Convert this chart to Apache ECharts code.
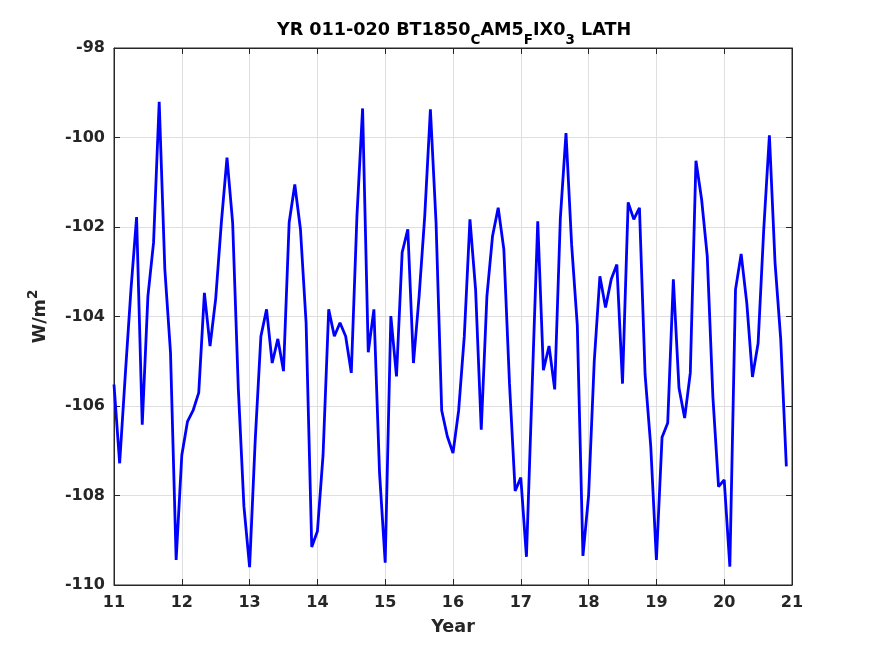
<!DOCTYPE html>
<html>
<head>
<meta charset="utf-8">
<script src="https://cdn.jsdelivr.net/npm/echarts@6/dist/echarts.min.js"></script>
<style>
  html, body { margin: 0; padding: 0; background: #fff; }
  #chart { width: 875px; height: 656px; }
</style>
</head>
<body>
<div id="chart"></div>
<script>
// monthly LATH values (W/m^2), one row per model year
var startYear = 11;
var yr11 = [-105.52, -107.28, -105.3, -103.4, -101.78, -106.42, -103.55, -102.35, -99.2, -102.95, -104.8, -109.44];
var yr12 = [-107.1, -106.35, -106.1, -105.7, -103.47, -104.66, -103.6, -101.9, -100.45, -101.9, -105.6, -108.25];
var yr13 = [-109.6, -106.75, -104.44, -103.84, -105.04, -104.5, -105.22, -101.9, -101.05, -102.05, -104.14, -109.15];
var yr14 = [-108.8, -107.1, -103.84, -104.44, -104.14, -104.44, -105.26, -101.75, -99.35, -104.8, -103.84, -107.5];
var yr15 = [-109.5, -103.99, -105.34, -102.57, -102.05, -105.04, -103.55, -101.75, -99.37, -101.9, -106.1, -106.68];
var yr16 = [-107.05, -106.1, -104.44, -101.83, -103.4, -106.53, -103.55, -102.2, -101.57, -102.5, -105.5, -107.9];
var yr17 = [-107.6, -109.37, -105.6, -101.87, -105.2, -104.66, -105.63, -101.8, -99.9, -102.4, -104.2, -109.35];
var yr18 = [-108.0, -105.0, -103.1, -103.8, -103.17, -102.84, -105.5, -101.45, -101.83, -101.57, -105.3, -106.9];
var yr19 = [-109.44, -106.7, -106.38, -103.17, -105.6, -106.27, -105.26, -100.52, -101.38, -102.65, -105.8, -107.8];
var yr20 = [-107.65, -109.59, -103.4, -102.6, -103.7, -105.35, -104.6, -102.05, -99.95, -102.8, -104.5, -107.35];

var years = [yr11, yr12, yr13, yr14, yr15, yr16, yr17, yr18, yr19, yr20];

var seriesData = [];
years.forEach(function (row, y) {
  row.forEach(function (v, m) {
    seriesData.push([startYear + y + m / 12, v]);
  });
});

var font = 'DejaVu Sans';
var ink = '#262626';

var axisCommon = {
  axisLine: { show: true, lineStyle: { color: ink, width: 1 } },
  axisTick: { show: true, inside: true, length: 6, lineStyle: { color: ink, width: 1 } }
};

var option = {
  animation: false,
  backgroundColor: '#fff',
  title: {
    text: '{a|YR 011-020 BT1850}{s|C}{a|AM5}{s|F}{a|IX0}{s|3}{a| LATH}',
    left: 454,
    top: 20,
    padding: 0,
    textAlign: 'center',
    textStyle: {
      rich: {
        a: { fontFamily: font, fontWeight: 'bold', fontSize: 17.6, color: '#000', lineHeight: 20 },
        s: { fontFamily: font, fontWeight: 'bold', fontSize: 13.5, color: '#000', lineHeight: 14, padding: [20, 0, 0, 0] }
      }
    }
  },
  grid: {
    left: 114, right: 83, top: 48, bottom: 71,
    show: true, borderColor: ink, borderWidth: 1, backgroundColor: '#fff'
  },
  xAxis: [
    Object.assign({}, axisCommon, {
      type: 'value', min: 11, max: 21, interval: 1,
      name: 'Year', nameLocation: 'middle', nameGap: 33,
      nameTextStyle: { fontFamily: font, fontWeight: 'bold', fontSize: 17.6, color: ink },
      axisLabel: { fontFamily: font, fontWeight: 'bold', fontSize: 16, color: ink, margin: 10 },
      splitLine: { show: true, lineStyle: { color: '#dfdfdf', width: 1 } }
    }),
    Object.assign({}, axisCommon, {
      type: 'value', min: 11, max: 21, interval: 1, position: 'top',
      axisLabel: { show: false }, splitLine: { show: false }
    })
  ],
  yAxis: [
    Object.assign({}, axisCommon, {
      type: 'value', min: -110, max: -98, interval: 2,
      name: '{a|W/m}{p|2}', nameLocation: 'middle', nameGap: 58, nameRotate: 90,
      nameTextStyle: {
        rich: {
          a: { fontFamily: font, fontWeight: 'bold', fontSize: 17.6, color: ink, lineHeight: 20 },
          p: { fontFamily: font, fontWeight: 'bold', fontSize: 13.5, color: ink, lineHeight: 14, padding: [0, 0, 14, 0] }
        }
      },
      axisLabel: { fontFamily: font, fontWeight: 'bold', fontSize: 16, color: ink, margin: 9 },
      splitLine: { show: true, lineStyle: { color: '#dfdfdf', width: 1 } }
    }),
    Object.assign({}, axisCommon, {
      type: 'value', min: -110, max: -98, interval: 2, position: 'right',
      axisLabel: { show: false }, splitLine: { show: false }
    })
  ],
  series: [
    {
      name: 'LATH',
      type: 'line',
      data: seriesData,
      showSymbol: false,
      symbol: 'none',
      lineStyle: { color: '#0000ff', width: 2.8 },
      z: 3
    }
  ]
};

var myChart = echarts.init(document.getElementById('chart'));
myChart.setOption(option);
</script>
</body>
</html>
